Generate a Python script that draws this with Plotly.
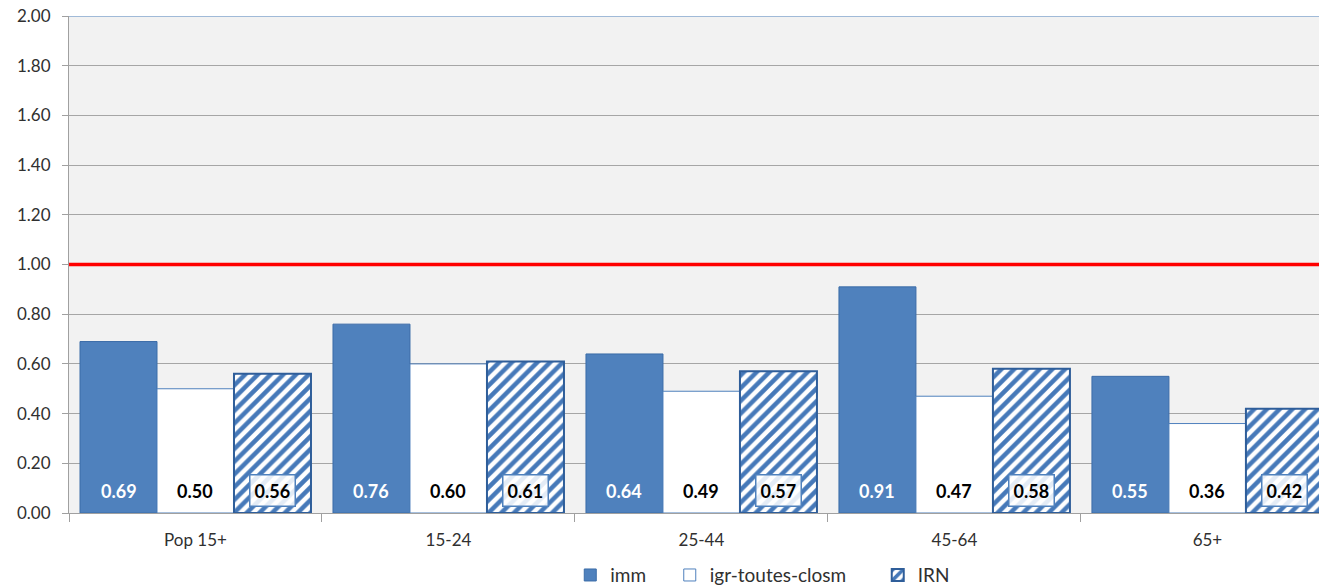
import plotly.graph_objects as go

categories = ["Pop 15+", "15-24", "25-44", "45-64", "65+"]
imm = [0.69, 0.76, 0.64, 0.91, 0.55]
igr = [0.50, 0.60, 0.49, 0.47, 0.36]
irn = [0.56, 0.61, 0.57, 0.58, 0.42]
reference_level = 1.0
y_ticks = [0, 0.2, 0.4, 0.6, 0.8, 1.0, 1.2, 1.4, 1.6, 1.8, 2.0]

FONT = "Lato, 'Liberation Sans', Arial, sans-serif"
BLUE = "#4F81BD"
DARK = "#2F5E9A"

fig = go.Figure()
fig.add_trace(go.Bar(name="imm", x=categories, y=imm, legend="legend",
                     marker=dict(color=BLUE, line=dict(color="#3B6CA8", width=1))))
fig.add_trace(go.Bar(name="igr-toutes-closm", x=categories, y=igr, legend="legend2",
                     marker=dict(color="white", line=dict(color=BLUE, width=1))))
fig.add_trace(go.Bar(name="IRN", x=categories, y=irn, legend="legend3",
                     marker=dict(color="white",
                                 pattern=dict(shape="/", fgcolor="#4679B9", bgcolor="white",
                                              fgopacity=1, size=9, solidity=0.5),
                                 line=dict(color=DARK, width=2))))

bargap = 0.087
w = (1 - bargap) / 3
annotations = []
for i in range(len(categories)):
    annotations.append(dict(x=i - w, y=0.09, xref="x", yref="y", text=f"<b>{imm[i]:.2f}</b>",
                            showarrow=False, font=dict(family=FONT, size=18, color="white")))
    annotations.append(dict(x=i, y=0.09, xref="x", yref="y", text=f"<b>{igr[i]:.2f}</b>",
                            showarrow=False, font=dict(family=FONT, size=18, color="black")))
    annotations.append(dict(x=i + w, y=0.09, xref="x", yref="y", text=f"<b>{irn[i]:.2f}</b>",
                            showarrow=False, font=dict(family=FONT, size=18, color="black"),
                            bgcolor="rgba(255,255,255,0.85)", bordercolor=BLUE, borderwidth=1.5,
                            borderpad=4))

legend_font = dict(family=FONT, size=19, color="#303030")
def leg(xpos):
    return dict(orientation="h", x=xpos, xanchor="left", y=-0.125, yanchor="middle",
                font=legend_font, itemwidth=30, bgcolor="rgba(0,0,0,0)")

fig.update_layout(
    width=1319, height=588,
    barmode="group", bargap=bargap, bargroupgap=0,
    paper_bgcolor="white", plot_bgcolor="#F2F2F2",
    margin=dict(l=69, r=0, t=16, b=75, autoexpand=False),
    font=dict(family=FONT, size=17, color="#404040"),
    showlegend=True,
    legend=leg(0.401), legend2=leg(0.4806), legend3=leg(0.647),
    annotations=annotations,
    shapes=[
        dict(type="line", xref="paper", yref="y", x0=0, x1=1, y0=reference_level, y1=reference_level,
             line=dict(color="#FF0000", width=3.6), layer="above"),
        dict(type="line", xref="paper", yref="y", x0=0, x1=1, y0=2.0, y1=2.0,
             line=dict(color=BLUE, width=1), layer="above"),
    ],
)
fig.update_xaxes(range=[-0.5, 4.441], showline=True, linecolor="#A0A0A0", linewidth=1,
                 ticks="outside", tickson="boundaries", ticklen=8, tickcolor="#A0A0A0",
                 ticklabelstandoff=12, automargin=False,
                 showgrid=False, tickfont=dict(family=FONT, size=17, color="#303030"))
fig.update_yaxes(range=[0, 2.0], tickvals=y_ticks, tickformat=".2f", showline=True,
                 linecolor="#A0A0A0", linewidth=1, ticks="outside", ticklen=6,
                 ticklabelstandoff=8, automargin=False,
                 tickcolor="#A0A0A0", gridcolor="#A6A6A6", gridwidth=1, zeroline=False,
                 tickfont=dict(family=FONT, size=17, color="#303030"))

fig.write_html("out.html", config={"displayModeBar": False},
               post_script="document.body.style.margin='0';")
